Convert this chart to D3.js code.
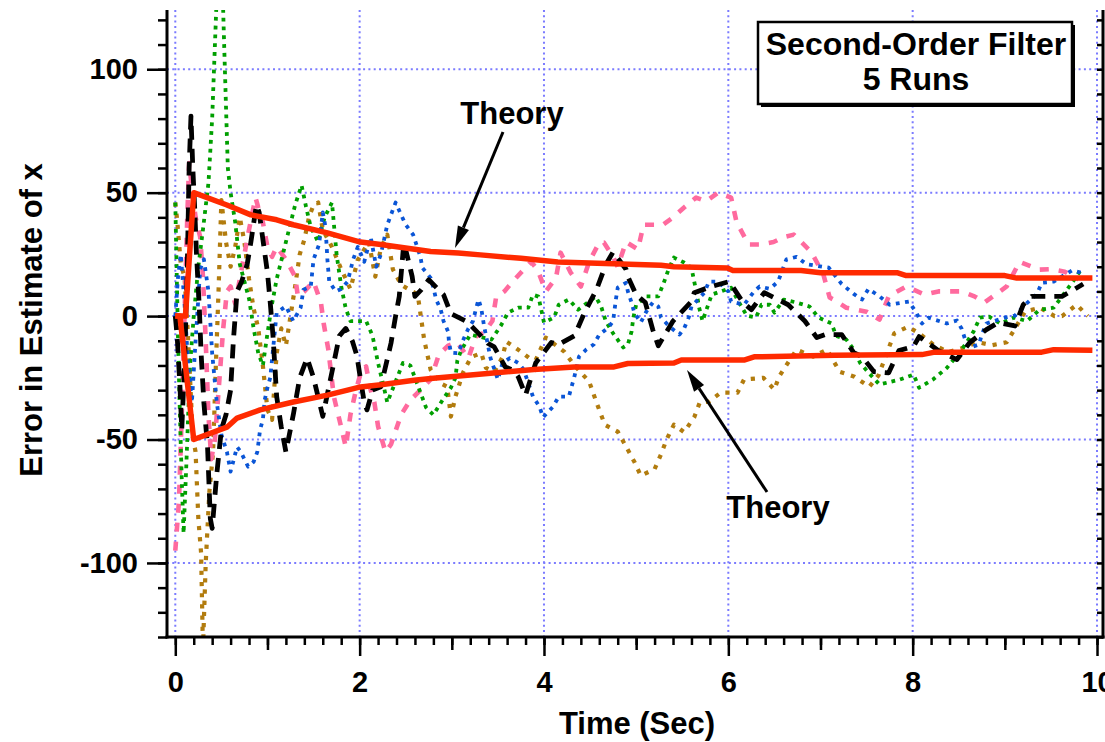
<!DOCTYPE html>
<html><head><meta charset="utf-8">
<script src="https://cdn.jsdelivr.net/npm/d3@7/dist/d3.min.js"></script>
<style>
html,body{margin:0;padding:0;background:#fff;}
text{font-family:"Liberation Sans",Arial,Helvetica,sans-serif;font-weight:bold;fill:#000;}
</style></head>
<body>
<svg id="chart" width="1105" height="742"></svg>
<script>
// ---------- data ----------
const xMajorTicks = [0, 2, 4, 6, 8, 10];
const yMajorTicks = [-100, -50, 0, 50, 100];
const xLabel = "Time (Sec)";
const yLabel = "Error in Estimate of x";
const boxLines = ["Second-Order Filter", "5 Runs"];
const theoryLabel = "Theory";

const theoryUpperT = [0, 0.11, 0.2, 0.56, 0.82, 1.1, 1.28, 1.65, 2.01, 2.23, 2.77, 3.07, 3.31, 3.75, 4.15, 5.27, 5.41, 5.99, 6.05, 6.79, 7.0, 7.83, 7.93, 9.0, 9.13, 9.95];
const theoryUpperV = [0, 0, 50, 45, 41, 39, 37, 33.7, 30, 29, 26.2, 25.6, 24.8, 23.4, 21.9, 20.6, 20, 19.5, 18.5, 18.5, 17.6, 17.6, 16.4, 16.4, 15.4, 15.4];
const theoryLowerT = [0, 0.05, 0.2, 0.56, 0.67, 0.92, 1.28, 1.65, 2.01, 2.23, 2.59, 2.8, 3.42, 3.89, 4.33, 4.76, 4.91, 5.41, 5.49, 6.17, 6.28, 7.15, 8.1, 8.24, 9.4, 9.53, 9.95];
const theoryLowerV = [0, 0, -50, -45, -41.3, -38, -34.8, -32, -28.7, -27.8, -26, -25.2, -23.2, -21.6, -20.6, -20.6, -19.2, -19, -17.8, -17.8, -16.5, -15.9, -15.6, -14.6, -14.6, -13.6, -13.8];

const brownT = [0, 0.02, 0.06, 0.1, 0.13, 0.16, 0.19, 0.22, 0.25, 0.28, 0.3, 0.33, 0.37, 0.41, 0.44, 0.47, 0.5, 0.55, 0.6, 0.65, 0.7, 0.75, 0.8, 0.85, 0.9, 0.95, 1.0, 1.05, 1.1, 1.15, 1.2, 1.25, 1.3, 1.35, 1.4, 1.45, 1.5, 1.55, 1.6, 1.7, 1.8, 1.9, 1.98, 2.1, 2.17, 2.23, 2.3, 2.36, 2.45, 2.63, 2.7, 2.77, 2.88, 2.95, 2.99, 3.04, 3.12, 3.21, 3.32, 3.37, 3.46, 3.55, 3.59, 3.66, 3.75, 3.84, 3.91, 4.02, 4.22, 4.33, 4.49, 4.57, 4.66, 4.8, 4.89, 4.98, 5.05, 5.2, 5.27, 5.33, 5.41, 5.52, 5.63, 5.69, 5.79, 5.92, 6.1, 6.17, 6.38, 6.5, 6.55, 6.74, 6.92, 7.07, 7.21, 7.37, 7.53, 7.63, 7.8, 7.95, 8.07, 8.23, 8.39, 8.53, 8.71, 8.86, 9.02, 9.22, 9.38, 9.54, 9.62, 9.78, 9.9];
const brownV = [46, 39, 21, 16, -3, -25, -49, -55, -82, -96, -135, -100, -71, -55, -20, 11, 47, 30, 20, 28, 40, 30, 15, 3, -5, -20, -38, -42, -15, -5, -12, 0, 12, 25, 31, 40, 45, 46, 35, 28, 19, 11, 22.8, 30, 16, 27.5, 33, 19, 12.7, 8.7, -9.5, -21.7, -27.3, -28.6, -40.7, -32.6, -23, -16.6, -15, -21, -22.6, -16.6, -10.3, -12, -14.4, -17, -17.8, -8.7, -14.4, -20, -26.5, -35, -44, -46.8, -52.8, -59, -64.6, -62, -56, -50, -44, -47, -41, -35, -34.6, -31, -31, -25.7, -25, -29.8, -24.5, -13.6, -16.4, -13.6, -22.6, -24.6, -28.6, -24, -7, -4.3, -7, -11.7, -14.6, -13, -10.6, -11.8, -10.6, 1.8, 3.4, 0, 0, 4.6, 0];

const greenT = [0, 0.03, 0.05, 0.07, 0.09, 0.12, 0.16, 0.2, 0.25, 0.3, 0.36, 0.4, 0.44, 0.47, 0.5, 0.53, 0.57, 0.6, 0.65, 0.7, 0.75, 0.8, 0.85, 0.9, 0.95, 1.0, 1.05, 1.1, 1.2, 1.3, 1.37, 1.42, 1.47, 1.55, 1.62, 1.7, 1.75, 1.8, 1.85, 1.9, 2.07, 2.14, 2.2, 2.27, 2.3, 2.47, 2.55, 2.66, 2.72, 2.8, 2.9, 2.99, 3.04, 3.06, 3.1, 3.2, 3.43, 3.53, 3.61, 3.72, 3.83, 3.88, 3.94, 3.97, 4.0, 4.11, 4.16, 4.27, 4.37, 4.56, 4.62, 4.67, 4.75, 4.86, 4.91, 4.95, 4.97, 5.0, 5.11, 5.24, 5.3, 5.35, 5.41, 5.52, 5.6, 5.63, 5.66, 5.68, 5.72, 5.82, 5.92, 6.03, 6.11, 6.2, 6.3, 6.36, 6.45, 6.5, 6.6, 6.74, 6.88, 6.98, 7.12, 7.17, 7.28, 7.36, 7.43, 7.56, 7.64, 7.86, 8.01, 8.07, 8.22, 8.37, 8.51, 8.57, 8.66, 8.73, 8.83, 8.95, 9.1, 9.24, 9.38, 9.53, 9.73, 9.82];
const greenV = [46, -10, -40, -66, -88, -60, -20, 0, 20, 35, 54, 80, 120, 150, 150, 110, 60, 50, 38, 21, 14, 7, -5, -15, -20, -7, 5, 15, 30, 45, 53, 44, 36, 30, 40, 46, 25, 12, 3, -2, -2, -8, -19, -30, -35, -19, -20, -31, -37, -40, -34, -29, -25, -18, -14, -7.5, -9.5, -4, 1.4, 3.4, 3.4, 8.7, 7.9, 2.6, -2.6, -0.6, 4.6, 6.7, 2.6, 7.9, 3.9, -2, -7, -12.7, -11.5, -6.3, -0.6, 4.6, 8, 8, 13.5, 18.8, 23.7, 21.7, 19.6, 14, 8.7, 3.9, -2, 8.7, 10, 11.5, 5.9, 0.2, -0.6, 4.6, 4.6, 1.4, 6.7, 5.5, 3.9, -0.6, -3, -8, -9.5, -13.5, -19, -24.5, -27.7, -25.7, -23.7, -29, -25.7, -21, -14.8, -11.5, -6.3, -0.6, -0.2, -3, -0.6, -2, 2.6, 3.4, 13.5, 18.5];

const blueT = [0, 0.03, 0.06, 0.1, 0.14, 0.18, 0.22, 0.27, 0.31, 0.36, 0.4, 0.45, 0.5, 0.56, 0.6, 0.67, 0.71, 0.79, 0.85, 0.89, 0.92, 0.95, 0.97, 1.0, 1.03, 1.1, 1.2, 1.28, 1.36, 1.39, 1.47, 1.5, 1.56, 1.6, 1.63, 1.65, 1.67, 1.74, 1.8, 1.87, 1.93, 1.98, 2.05, 2.12, 2.18, 2.23, 2.3, 2.34, 2.39, 2.45, 2.5, 2.58, 2.66, 2.68, 2.77, 2.8, 2.83, 2.88, 2.91, 2.96, 2.97, 2.99, 3.07, 3.12, 3.18, 3.23, 3.26, 3.29, 3.32, 3.35, 3.42, 3.5, 3.55, 3.63, 3.72, 3.78, 3.88, 3.95, 3.99, 4.1, 4.16, 4.27, 4.33, 4.38, 4.46, 4.54, 4.6, 4.7, 4.75, 4.78, 4.8, 4.89, 4.91, 4.95, 4.98, 5.05, 5.11, 5.18, 5.24, 5.27, 5.36, 5.47, 5.52, 5.57, 5.6, 5.67, 5.74, 5.79, 5.89, 6.0, 6.03, 6.17, 6.28, 6.34, 6.45, 6.54, 6.63, 6.74, 6.85, 7.09, 7.23, 7.36, 7.45, 7.52, 7.64, 7.75, 7.96, 8.04, 8.1, 8.17, 8.37, 8.48, 8.53, 8.57, 8.62, 8.72, 8.75, 8.8, 9.0, 9.11, 9.22, 9.35, 9.4, 9.53, 9.73, 9.84];
const blueV = [0, 16, 25, 5, -20, -35, -10, 19, 23, 10, -15, -35, -48, -55, -63, -53, -55, -61, -59, -55, -46, -42, -34, -29, -25, 1.4, 4, -2, 3.4, 10.7, 12, 23, 29, 42, 36, 23, 14, 10, 11, 14, 23, 28, 22, 32, 20, 25, 37, 41, 46, 41, 37, 33, 24, 19.6, 15.5, 11.5, 6.7, 2.6, -2, -6.3, -10.7, -14.8, -15, -10, -5, -2, 2.6, 6.7, 3, -4, -17, -25.7, -19, -17, -19, -21.7, -32.6, -36.6, -41, -36.6, -32.6, -32.6, -24.5, -16.4, -13.5, -11.5, -7.5, -4.6, -2, 6.7, 11.5, 13.5, 10, 5.5, 1.4, -2.6, 1.8, 5.5, 3.9, -0.6, -4.2, -7.5, -5, -0.6, 3.9, 6.7, 9.5, 14, 14, 10, 5.9, 4.6, 10, 12, 11, 14, 23, 24, 21, 19.6, 13, 9, 6.7, 11, 8, 4.6, 5.9, 1.4, -3, -0.6, -3, -1.8, -5, -9.5, -12.8, -11.5, -7.5, -3, -0.6, 0.2, 4.6, 9, 13.5, 14, 18.5, 17.5];

const pinkT = [0, 0.02, 0.04, 0.07, 0.1, 0.13, 0.15, 0.18, 0.22, 0.27, 0.3, 0.33, 0.36, 0.39, 0.43, 0.48, 0.52, 0.56, 0.6, 0.65, 0.7, 0.75, 0.8, 0.87, 0.9, 0.95, 1.0, 1.05, 1.1, 1.2, 1.3, 1.33, 1.4, 1.5, 1.58, 1.61, 1.66, 1.72, 1.8, 1.85, 1.9, 1.96, 2.02, 2.07, 2.12, 2.16, 2.2, 2.28, 2.34, 2.45, 2.55, 2.66, 2.77, 2.86, 2.96, 3.06, 3.18, 3.26, 3.35, 3.44, 3.48, 3.57, 3.66, 3.76, 3.86, 3.93, 4.02, 4.13, 4.18, 4.29, 4.4, 4.49, 4.6, 4.65, 4.75, 4.8, 4.89, 5.02, 5.08, 5.29, 5.4, 5.52, 5.65, 5.76, 5.89, 6.03, 6.09, 6.22, 6.35, 6.49, 6.6, 6.71, 6.9, 7.03, 7.1, 7.14, 7.28, 7.5, 7.64, 7.74, 7.93, 8.13, 8.28, 8.53, 8.67, 8.78, 9.02, 9.16, 9.37, 9.5, 9.65, 9.8];
const pinkV = [-95, -85, -75, -40, 0, 40, 62, 52, 40, 32, 16, -10, -40, -58, -50, -25, -5, 10, 12, 5, 15, 25, 35, 48, 44, 38, 28, 24, 28, 23, 16, 8, 10, 14, 5.5, -3, -13.5, -32.6, -45, -53, -40, -30, -22, -20.4, -30, -35, -44.7, -55, -52, -40, -34, -30, -25.7, -15.6, -12, -10.7, -17, -8.3, -6.7, -2, 7.5, 10, 14, 18, 22, 18.8, 10, 15.5, 25.7, 17.6, 12, 22, 29.8, 29.8, 24, 20, 30, 27, 37, 37, 40, 44, 48, 46.5, 50, 48, 38, 29, 29, 30, 32, 33, 26, 17, 7.5, 6.7, 3.4, 1.8, -1.4, 8, 12, 8.7, 10, 10, 8, 5.5, 12, 22, 18.8, 19, 18, 14.8];

const blackT = [0, 0.02, 0.05, 0.07, 0.1, 0.13, 0.15, 0.17, 0.19, 0.21, 0.23, 0.26, 0.28, 0.31, 0.35, 0.38, 0.4, 0.45, 0.5, 0.55, 0.6, 0.63, 0.67, 0.72, 0.78, 0.82, 0.88, 0.91, 0.97, 1.0, 1.03, 1.06, 1.1, 1.15, 1.2, 1.28, 1.35, 1.43, 1.5, 1.6, 1.7, 1.78, 1.85, 1.92, 1.97, 2.01, 2.05, 2.08, 2.14, 2.23, 2.34, 2.39, 2.43, 2.48, 2.57, 2.6, 2.67, 2.75, 2.91, 2.99, 3.17, 3.29, 3.39, 3.46, 3.58, 3.67, 3.72, 3.8, 3.91, 4.08, 4.16, 4.33, 4.44, 4.57, 4.67, 4.75, 4.89, 4.91, 5.0, 5.1, 5.18, 5.24, 5.4, 5.6, 5.63, 5.82, 6.01, 6.16, 6.25, 6.39, 6.65, 6.83, 6.96, 7.05, 7.23, 7.36, 7.45, 7.58, 7.74, 7.85, 8.01, 8.07, 8.28, 8.48, 8.62, 8.8, 8.93, 9.11, 9.2, 9.29, 9.46, 9.62, 9.73, 9.85];
const blackV = [0, -8, -28, -46, -20, 20, 60, 81, 60, 44, 25, 4, -15, -35, -53, -82, -86, -64, -46, -40, -30, -10, 10, 14, 21, 30, 45, 42, 25.7, 17.6, 5.5, -8, -32.6, -45, -55, -40, -25, -17, -25, -40.6, -22.6, -8, -5, -10, -16, -25.7, -35, -38, -30, -28.6, -11, 0, 8, 30, 16, 8, 10.7, 14.7, 8.7, 1, -2.4, -7, -11, -12.5, -20.6, -22, -24.5, -32, -19, -10.7, -11.5, -8, 1.4, 10.7, 20.8, 26, 19, 16, 8.7, 5.5, -5.5, -12, -2, 5.9, 9.5, 12, 14, 5.5, 2.6, 9.5, 4.6, -2, -8.7, -7.5, -7.5, -14.8, -16.4, -22.5, -23, -14, -12.3, -8.3, -14, -17.6, -10.7, -5.5, -2.6, -4, 4.6, 8, 8, 8, 10.3, 13];

// ---------- layout ----------
const svg = d3.select("#chart");
const pL = 167, pR = 1103, pT = 10, pB = 637;
const x = d3.scaleLinear().domain([-0.09, 10.065]).range([pL, pR]);
const y = d3.scaleLinear().domain([-130, 124]).range([pB, pT]);

svg.append("defs").append("clipPath").attr("id", "plotclip")
  .append("rect").attr("x", pL).attr("y", pT).attr("width", pR - pL).attr("height", pB - pT);

// grid
const gridColor = "#7b7bff";
const grid = svg.append("g");
grid.selectAll("line.gx").data(xMajorTicks).enter().append("line")
  .attr("x1", d => x(d)).attr("x2", d => x(d)).attr("y1", pT).attr("y2", pB)
  .attr("stroke", gridColor).attr("stroke-width", 2).attr("stroke-dasharray", "2,3.3");
grid.selectAll("line.gy").data(yMajorTicks).enter().append("line")
  .attr("y1", d => y(d)).attr("y2", d => y(d)).attr("x1", pL).attr("x2", pR)
  .attr("stroke", gridColor).attr("stroke-width", 2).attr("stroke-dasharray", "2,3.3");

// runs
const runs = [
  {t: brownT, v: brownV, color: "#b27c0e", w: 4.2, dash: "4.2,7"},
  {t: pinkT, v: pinkV, color: "#ff6a9e", w: 4.6, dash: "9,10"},
  {t: greenT, v: greenV, color: "#009f00", w: 3.8, dash: "3.8,5"},
  {t: blueT, v: blueV, color: "#0a55d6", w: 3.8, dash: "3.8,5.5"},
  {t: blackT, v: blackV, color: "#000000", w: 4.8, dash: "14,9"}
];
const line = d3.line().x(d => x(d[0])).y(d => y(d[1]));
const plot = svg.append("g").attr("clip-path", "url(#plotclip)");
runs.forEach(r => {
  plot.append("path").datum(d3.zip(r.t, r.v)).attr("d", line)
    .attr("fill", "none").attr("stroke", r.color).attr("stroke-width", r.w)
    .attr("stroke-dasharray", r.dash).attr("stroke-linejoin", "round");
});
[[theoryUpperT, theoryUpperV], [theoryLowerT, theoryLowerV]].forEach(([t, v]) => {
  plot.append("path").datum(d3.zip(t, v)).attr("d", line)
    .attr("fill", "none").attr("stroke", "#ff2a00").attr("stroke-width", 5.5)
    .attr("stroke-linejoin", "round");
});

// axes
const fontSize = 29;
const yMinor = d3.range(-130, 121, 10);
const xMinor = d3.range(0, 10.01, 0.2).map(d => +d.toFixed(1));
const xMid = [1, 3, 5, 7, 9];
const plainFmt = d => String(d);

function styleAxis(g) {
  g.select(".domain").remove();
  g.selectAll(".tick line").attr("stroke", "#000").attr("stroke-width", 2.5);
  g.selectAll(".tick text").style("font-size", fontSize + "px").style("font-weight", "bold")
    .style("font-family", "'Liberation Sans', Arial, sans-serif").attr("fill", "#000");
}
svg.append("g").attr("transform", `translate(${pL},0)`)
  .call(d3.axisLeft(y).tickValues(yMinor).tickSize(9).tickFormat("")).call(styleAxis);
svg.append("g").attr("transform", `translate(${pL},0)`)
  .call(d3.axisLeft(y).tickValues(yMajorTicks).tickSize(20).tickPadding(9).tickFormat(plainFmt)).call(styleAxis);
svg.append("g").attr("transform", `translate(${pR},0)`)
  .call(d3.axisLeft(y).tickValues(yMinor).tickSize(6).tickFormat("")).call(styleAxis);
svg.append("g").attr("transform", `translate(0,${pB})`)
  .call(d3.axisBottom(x).tickValues(xMinor).tickSize(8).tickFormat("")).call(styleAxis);
svg.append("g").attr("transform", `translate(0,${pB})`)
  .call(d3.axisBottom(x).tickValues(xMid).tickSize(13).tickFormat("")).call(styleAxis);
svg.append("g").attr("transform", `translate(0,${pB})`)
  .call(d3.axisBottom(x).tickValues(xMajorTicks).tickSize(19).tickPadding(15).tickFormat(plainFmt)).call(styleAxis);

// axis lines
svg.append("line").attr("x1", pL).attr("x2", pL).attr("y1", pT).attr("y2", pB + 1.5)
  .attr("stroke", "#000").attr("stroke-width", 3);
svg.append("line").attr("x1", pR).attr("x2", pR).attr("y1", pT).attr("y2", pB + 1.5)
  .attr("stroke", "#000").attr("stroke-width", 3);
svg.append("line").attr("x1", pL - 1.5).attr("x2", pR + 1.5).attr("y1", pB).attr("y2", pB)
  .attr("stroke", "#000").attr("stroke-width", 3);

// axis titles
svg.append("text").attr("x", 637).attr("y", 734).attr("text-anchor", "middle")
  .style("font-size", "31px").text(xLabel);
svg.append("text").attr("transform", "translate(42,320) rotate(-90)").attr("text-anchor", "middle")
  .style("font-size", "31px").text(yLabel);

// legend box
svg.append("rect").attr("x", 761).attr("y", 25).attr("width", 314).attr("height", 82).attr("fill", "#000");
svg.append("rect").attr("x", 758).attr("y", 22).attr("width", 314).attr("height", 82)
  .attr("fill", "#fff").attr("stroke", "#000").attr("stroke-width", 2.5);
svg.append("text").attr("x", 916).attr("y", 55).attr("text-anchor", "middle").style("font-size", "32px").text(boxLines[0]);
svg.append("text").attr("x", 916).attr("y", 90).attr("text-anchor", "middle").style("font-size", "32px").text(boxLines[1]);

// Theory annotations
function arrow(x1, y1, x2, y2) {
  const ang = Math.atan2(y2 - y1, x2 - x1), L = 22, W = 6;
  const bx = x2 - L * Math.cos(ang), by = y2 - L * Math.sin(ang);
  svg.append("line").attr("x1", x1).attr("y1", y1).attr("x2", bx).attr("y2", by)
    .attr("stroke", "#000").attr("stroke-width", 3);
  const px = -Math.sin(ang) * W, py = Math.cos(ang) * W;
  svg.append("path").attr("d", `M${x2},${y2}L${bx + px},${by + py}L${bx - px},${by - py}Z`).attr("fill", "#000");
}
svg.append("text").attr("x", 512).attr("y", 124).attr("text-anchor", "middle").style("font-size", "31px").text(theoryLabel);
arrow(503, 132, 455, 248);
svg.append("text").attr("x", 778).attr("y", 518).attr("text-anchor", "middle").style("font-size", "31px").text(theoryLabel);
arrow(767, 492, 687, 370);
</script>
</body></html>
